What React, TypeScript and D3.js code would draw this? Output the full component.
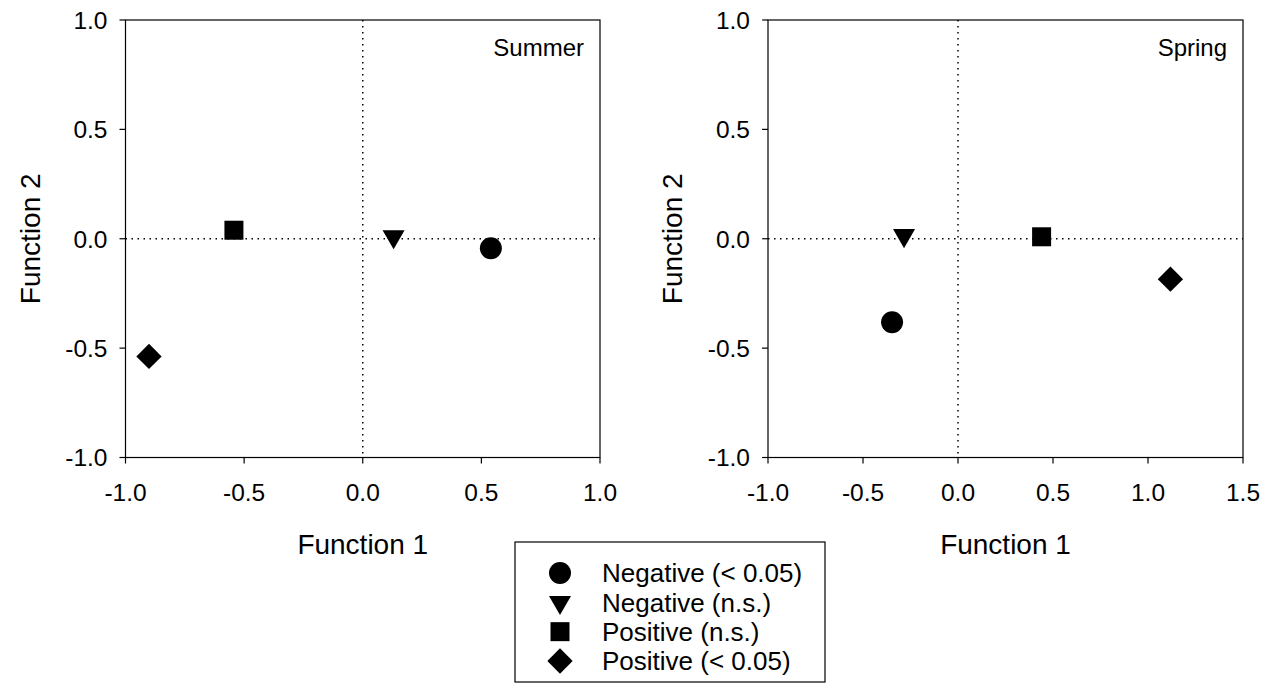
import React from "react";
import * as d3 from "d3";

const groups = ["Negative (< 0.05)", "Negative (n.s.)", "Positive (n.s.)", "Positive (< 0.05)"];
const shapes = ["circle", "triangle", "square", "diamond"];

const summerX = [0.54, 0.13, -0.543, -0.901];
const summerY = [-0.043, 0.01, 0.039, -0.538];
const springX = [-0.347, -0.284, 0.44, 1.118];
const springY = [-0.382, 0.015, 0.009, -0.185];

const yTicks = [-1.0, -0.5, 0.0, 0.5, 1.0];
const summerXTicks = [-1.0, -0.5, 0.0, 0.5, 1.0];
const springXTicks = [-1.0, -0.5, 0.0, 0.5, 1.0, 1.5];

const FONT = "Liberation Sans, Arial, sans-serif";

function symbolPath(shape: string): string {
  const gen = d3.symbol();
  if (shape === "circle") return gen.type(d3.symbolCircle).size(380)() as string;
  if (shape === "square") return gen.type(d3.symbolSquare).size(361)() as string;
  if (shape === "diamond") return gen.type(d3.symbolSquare).size(320)() as string;
  return gen.type(d3.symbolTriangle).size(210)() as string;
}

function Marker({ shape, x, y }: { shape: string; x: number; y: number }) {
  let rot = 0;
  if (shape === "diamond") rot = 45;
  if (shape === "triangle") rot = 180;
  return <path d={symbolPath(shape)} transform={`translate(${x},${y}) rotate(${rot})`} fill="#000" />;
}

function Panel({
  left, right, top, bottom, xDomain, xTicks, xs, ys, label,
}: {
  left: number; right: number; top: number; bottom: number;
  xDomain: [number, number]; xTicks: number[]; xs: number[]; ys: number[]; label: string;
}) {
  const x = d3.scaleLinear().domain(xDomain).range([left, right]);
  const y = d3.scaleLinear().domain([-1, 1]).range([bottom, top]);
  const fmt = d3.format(".1f");
  const f = (v: number) => fmt(v).replace("−", "-");
  return (
    <g>
      <line x1={x(0)} x2={x(0)} y1={top} y2={bottom} stroke="#000" strokeWidth={1.5} strokeDasharray="1.5 4.5" />
      <line x1={left} x2={right} y1={y(0)} y2={y(0)} stroke="#000" strokeWidth={1.5} strokeDasharray="1.5 4.5" />
      <rect x={left} y={top} width={right - left} height={bottom - top} fill="none" stroke="#000" strokeWidth={1.2} />
      {yTicks.map((t) => (
        <g key={"y" + t}>
          <line x1={left - 6} x2={left} y1={y(t)} y2={y(t)} stroke="#000" strokeWidth={1.2} />
          <text x={left - 18} y={y(t)} dy="0.36em" textAnchor="end" fontSize={24.5} fontFamily={FONT}>{f(t)}</text>
        </g>
      ))}
      {xTicks.map((t) => (
        <g key={"x" + t}>
          <line x1={x(t)} x2={x(t)} y1={bottom} y2={bottom + 6} stroke="#000" strokeWidth={1.2} />
          <text x={x(t)} y={bottom + 43} textAnchor="middle" fontSize={24.5} fontFamily={FONT}>{f(t)}</text>
        </g>
      ))}
      <text x={(left + right) / 2} y={bottom + 96} textAnchor="middle" fontSize={28} fontFamily={FONT}>Function 1</text>
      <text transform={`translate(${left - 86},${(top + bottom) / 2}) rotate(-90)`} textAnchor="middle" fontSize={28} fontFamily={FONT}>Function 2</text>
      <text x={right - 16} y={top + 36} textAnchor="end" fontSize={24} fontFamily={FONT}>{label}</text>
      {xs.map((v, i) => (
        <Marker key={i} shape={shapes[i]} x={x(v)} y={y(ys[i])} />
      ))}
    </g>
  );
}

export default function App() {
  const rows = d3.scaleLinear().domain([0, 3]).range([573, 661]);
  return (
    <svg width={1273} height={691} style={{ position: "absolute", left: 0, top: 0, background: "#fff" }}>
      <rect x={0} y={0} width={1273} height={691} fill="#fff" />
      <Panel left={125.5} right={600} top={20} bottom={457.5} xDomain={[-1, 1]} xTicks={summerXTicks} xs={summerX} ys={summerY} label="Summer" />
      <Panel left={768} right={1243} top={20} bottom={457.5} xDomain={[-1, 1.5]} xTicks={springXTicks} xs={springX} ys={springY} label="Spring" />
      <rect x={515} y={542} width={310} height={140} fill="#fff" stroke="#000" strokeWidth={1.2} />
      {groups.map((g, i) => (
        <g key={g}>
          <Marker shape={shapes[i]} x={560} y={rows(i)} />
          <text x={602} y={rows(i)} dy="0.36em" fontSize={26} fontFamily={FONT}>{g}</text>
        </g>
      ))}
    </svg>
  );
}
